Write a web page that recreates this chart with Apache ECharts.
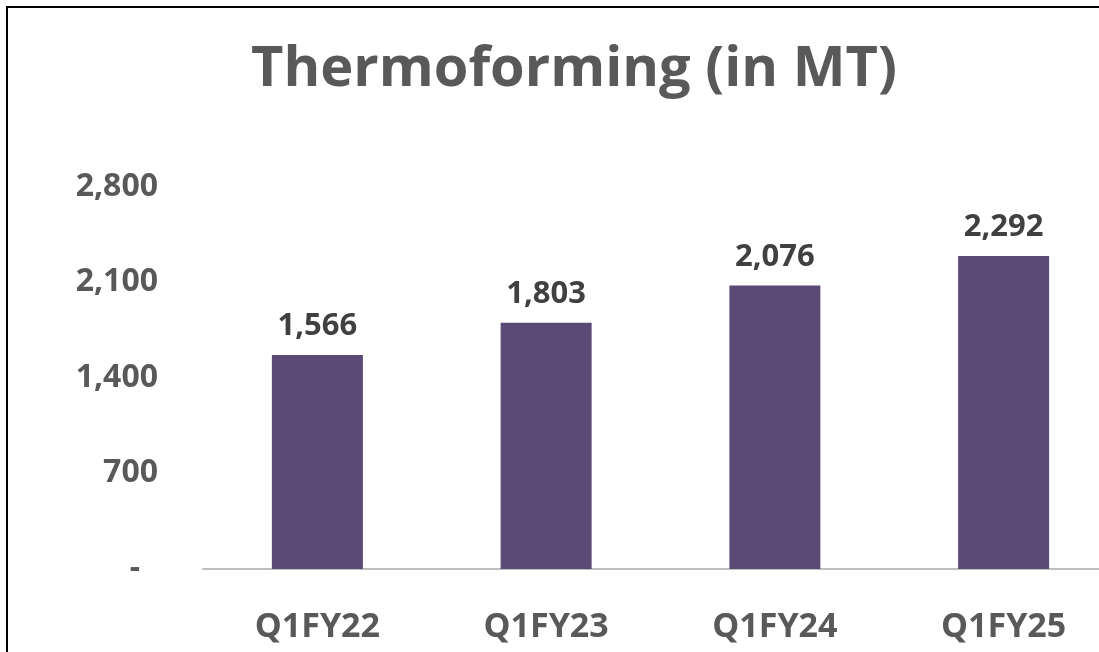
<html>
<head>
<meta charset="UTF-8">
<title>Thermoforming</title>
<script src="https://cdn.jsdelivr.net/npm/echarts@6/dist/echarts.min.js"></script>
<style>
    body{
        margin:0;
        background:#fff;
        overflow:hidden;
    }
    #main{
        position:absolute;
        left:0;
        top:0;
        width:1120px;
        height:652px;
    }
    .edge{
        position:absolute;
        background:#000;
    }
</style>
</head>
<body>
<div id="main"></div>
<div class="edge" style="left:6px;top:6px;width:2px;height:646px;"></div>
<div class="edge" style="left:6px;top:6px;width:1093px;height:2px;"></div>
<script>
var categories = ['Q1FY22', 'Q1FY23', 'Q1FY24', 'Q1FY25'];
var volumes = [1566, 1803, 2076, 2292];
var yTicks = [0, 700, 1400, 2100, 2800];

var myChart = echarts.init(document.getElementById('main'));

var option = {
    animation: false,
    title: {
        text: 'Thermoforming (in MT)',
        left: 246,
        top: 37,
        textStyle: {
            fontFamily: 'Open Sans',
            fontWeight: 'bold',
            fontSize: 56,
            color: '#595959'
        }
    },
    grid: {
        left: 203,
        top: 186.5,
        width: 915,
        height: 382.5
    },
    xAxis: {
        type: 'category',
        data: categories,
        axisLine: { lineStyle: { color: '#bfbfbf', width: 2 } },
        axisTick: { show: false },
        axisLabel: {
            margin: 41,
            fontFamily: 'Open Sans',
            fontWeight: 'bold',
            fontSize: 34,
            color: '#595959'
        }
    },
    yAxis: {
        type: 'value',
        min: 0,
        max: 2800,
        interval: 700,
        splitLine: { show: false },
        axisLine: { show: false },
        axisTick: { show: false },
        axisLabel: {
            margin: 45,
            fontFamily: 'Open Sans',
            fontWeight: 'bold',
            fontSize: 32,
            color: '#595959',
            formatter: function (v) {
                if (yTicks.indexOf(v) < 0) return '';
                return v === 0 ? '{d|-}' : v.toLocaleString('en-US');
            },
            rich: {
                d: {
                    fontFamily: 'Open Sans',
                    fontWeight: 'bold',
                    fontSize: 32,
                    color: '#595959',
                    padding: [0, 18, 0, 0]
                }
            }
        }
    },
    series: [{
        type: 'bar',
        data: volumes,
        barWidth: 91,
        itemStyle: { color: '#5b4a75' },
        label: {
            show: true,
            position: 'top',
            distance: 13,
            fontFamily: 'Open Sans',
            fontWeight: 'bold',
            fontSize: 31,
            color: '#404040',
            formatter: function (p) {
                return p.value.toLocaleString('en-US');
            }
        }
    }]
};
myChart.setOption(option);
</script>
</body>
</html>
